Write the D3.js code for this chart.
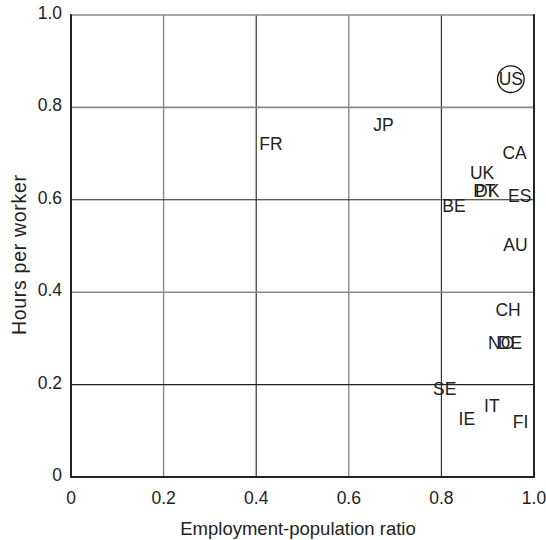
<!DOCTYPE html>
<html><head><meta charset="utf-8">
<script src="https://cdn.jsdelivr.net/npm/d3@7/dist/d3.min.js"></script>
<style>
html,body{margin:0;padding:0;background:#fff;}
text{font-family:"Liberation Sans",Arial,Helvetica,sans-serif;fill:#222;}
</style></head>
<body>
<svg id="chart" width="546" height="540"></svg>
<script>
const countries = ["US","JP","FR","CA","UK","PT","DK","ES","BE","AU","CH","NO","DE","SE","IT","IE","FI"];
const employment = [0.950,0.675,0.432,0.958,0.888,0.893,0.899,0.969,0.827,0.960,0.944,0.929,0.948,0.807,0.909,0.855,0.971];
const hours = [0.861,0.761,0.721,0.701,0.658,0.619,0.619,0.609,0.587,0.503,0.362,0.290,0.290,0.191,0.153,0.125,0.120];
const circled = ["US"];
const xTicks = [0,0.2,0.4,0.6,0.8,1.0];
const yTicks = [0,0.2,0.4,0.6,0.8,1.0];
const xTickLabels = ["0","0.2","0.4","0.6","0.8","1.0"];
const yTickLabels = ["0","0.2","0.4","0.6","0.8","1.0"];

const svg = d3.select("#chart");
const m = {left:71, right:534, top:15, bottom:477};
const x = d3.scaleLinear().domain([0,1]).range([m.left,m.right]);
const y = d3.scaleLinear().domain([0,1]).range([m.bottom,m.top]);

// grid lines (alternating gray / dark)
const inner = [0.2,0.4,0.6,0.8];
svg.append("g").selectAll("line").data(inner).join("line")
  .attr("x1",d=>x(d)).attr("x2",d=>x(d)).attr("y1",y(0)).attr("y2",y(1))
  .attr("stroke",(d,i)=> i%2===0 ? "#8a8a8a" : "#222")
  .attr("stroke-width",(d,i)=> i%2===0 ? 1.4 : 1.1);
svg.append("g").selectAll("line").data(inner).join("line")
  .attr("y1",d=>y(d)).attr("y2",d=>y(d)).attr("x1",x(0)).attr("x2",x(1))
  .attr("stroke",(d,i)=> i%2===0 ? "#222" : "#8a8a8a")
  .attr("stroke-width",(d,i)=> i%2===0 ? 1.1 : 1.6);

// frame
svg.append("line").attr("x1",x(0)).attr("x2",x(1)).attr("y1",y(1)).attr("y2",y(1))
  .attr("stroke","#8a8a8a").attr("stroke-width",1.6);
svg.append("line").attr("x1",x(1)).attr("x2",x(1)).attr("y1",y(1)-0.8).attr("y2",y(0))
  .attr("stroke","#222").attr("stroke-width",2);
svg.append("line").attr("x1",x(0)).attr("x2",x(0)).attr("y1",y(1)-0.8).attr("y2",y(0)+1)
  .attr("stroke","#222").attr("stroke-width",2);
svg.append("line").attr("x1",x(0)-1).attr("x2",x(1)+1).attr("y1",y(0)).attr("y2",y(0))
  .attr("stroke","#222").attr("stroke-width",2.2);

// tick labels
svg.append("g").selectAll("text").data(xTicks).join("text")
  .attr("x",d=>x(d)).attr("y",504).attr("text-anchor","middle")
  .attr("font-size",17.5).text((d,i)=>xTickLabels[i]);
svg.append("g").selectAll("text").data(yTicks).join("text")
  .attr("x",62).attr("y",d=>y(d)+4).attr("text-anchor","end")
  .attr("font-size",17.5).text((d,i)=>yTickLabels[i]);

// axis titles
svg.append("text").attr("x",298).attr("y",535).attr("text-anchor","middle")
  .attr("font-size",18.5).text("Employment-population ratio");
svg.append("text").attr("transform","translate(26,255) rotate(-90)").attr("text-anchor","middle")
  .attr("font-size",19.5).attr("textLength",160).attr("lengthAdjust","spacing")
  .text("Hours per worker");

// data labels
const pts = countries.map((c,i)=>({c, e:employment[i], h:hours[i]}));
svg.append("g").selectAll("circle").data(pts.filter(p=>circled.includes(p.c))).join("circle")
  .attr("cx",d=>x(d.e)).attr("cy",d=>y(d.h)).attr("r",13.3)
  .attr("fill","none").attr("stroke","#111").attr("stroke-width",1.3);
svg.append("g").selectAll("text").data(pts).join("text")
  .attr("x",d=>x(d.e)).attr("y",d=>y(d.h)+6).attr("text-anchor","middle")
  .attr("font-size",17.5).text(d=>d.c);
</script>
</body></html>
